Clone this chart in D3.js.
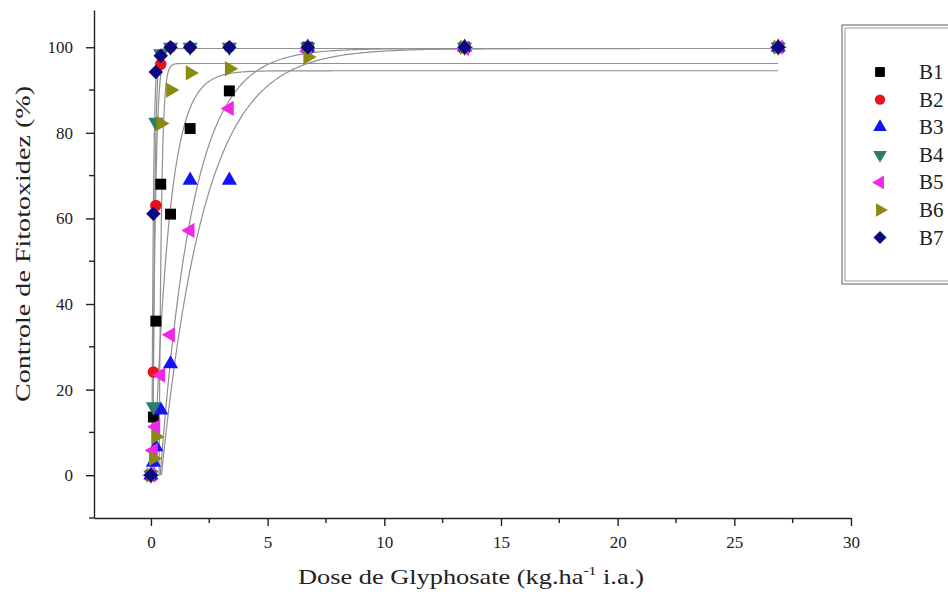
<!DOCTYPE html>
<html>
<head>
<meta charset="utf-8">
<script src="https://cdn.jsdelivr.net/npm/d3@7"></script>
<style>
  body { margin: 0; background: #fff; }
  text { font-family: "Liberation Serif", "Times New Roman", serif; fill: #222; }
</style>
</head>
<body>
<svg id="chart" width="948" height="602"></svg>
<script>
// Doses (kg.ha-1 i.a.)
var doses = [0, 0.105, 0.21, 0.42, 0.84, 1.68, 3.36, 6.72, 13.44, 26.88];

// Series names and values (% control), one value per dose
var seriesNames = ["B1", "B2", "B3", "B4", "B5", "B6", "B7"];
var b1 = [0, 13.6, 36, 68, 61, 81, 89.8, 100, 100, 100];
var b2 = [0, 24.1, 63, 96, 100, 100, 100, 100, 100, 100];
var b3 = [0, 3, 6.6, 15.2, 26, 68.9, 68.9, 100, 100, 100];
var b4 = [0, 16, 82.5, 98.5, 100, 100, 100, 100, 100, 100];
var b5 = [0, 5.8, 11.3, 23.4, 32.8, 57.2, 85.7, 99, 99.7, 100];
var b6 = [0, 3.9, 9, 82.2, 90, 94, 95, 97.7, 100, 100];
var b7 = [0, 61.1, 94.2, 98, 100, 100, 100, 100, 100, 100];

// Fitted curves y = a * (1 - exp(-b * (x - x0)))
var fitA  = [94.5, 99.7, 99.7, 99.7, 99.7, 96.2, 99.7];
var fitB  = [1.55, 8, 0.535, 13, 0.713, 10, 15];
var fitX0 = [0.14, 0.07, 0.45, 0.088, 0.4, 0.35, 0.04];

var colors = ["#000000", "#e8121a", "#1414f0", "#2a7d6c", "#ee28e6", "#8a8a12", "#0a0a7e"];

// Axis ticks
var xTicks = [0, 5, 10, 15, 20, 25, 30];
var xMinor = [2.5, 7.5, 12.5, 17.5, 22.5, 27.5];
var yTicks = [0, 20, 40, 60, 80, 100];
var yMinor = [-10, 10, 30, 50, 70, 90];

var svg = d3.select("#chart");

var x = d3.scaleLinear().domain([-2.44, 30]).range([94, 851]);
var y = d3.scaleLinear().domain([-10, 108.7]).range([518, 10]);

// Axes
var xAxis = svg.append("g")
    .attr("transform", "translate(0," + y(-10) + ")")
    .call(d3.axisBottom(x).tickValues(xTicks).tickSize(8).tickSizeOuter(0).tickPadding(10));
xAxis.append("g").selectAll("line").data(xMinor).join("line")
    .attr("x1", function (d) { return x(d); })
    .attr("x2", function (d) { return x(d); })
    .attr("y1", 0).attr("y2", 5);

var yAxis = svg.append("g")
    .attr("transform", "translate(" + x(-2.44) + ",0)")
    .call(d3.axisLeft(y).tickValues(yTicks).tickSize(8).tickSizeOuter(0).tickPadding(13));
yAxis.append("g").selectAll("line").data(yMinor).join("line")
    .attr("y1", function (d) { return y(d); })
    .attr("y2", function (d) { return y(d); })
    .attr("x1", 0).attr("x2", -5);

svg.selectAll(".domain, .tick line").attr("stroke", "#222").attr("stroke-width", 1.4);
svg.selectAll("g line").attr("stroke", "#222").attr("stroke-width", 1.4);
svg.selectAll(".tick text").attr("font-size", 17).attr("fill", "#333");

// Axis titles
svg.append("text")
    .attr("transform", "translate(30,244) rotate(-90)")
    .attr("text-anchor", "middle")
    .attr("font-size", 22)
    .attr("textLength", 316).attr("lengthAdjust", "spacingAndGlyphs")
    .text("Controle de Fitotoxidez (%)");

var xt = svg.append("text")
    .attr("x", 298).attr("y", 584)
    .attr("font-size", 22)
    .attr("textLength", 346).attr("lengthAdjust", "spacingAndGlyphs");
xt.append("tspan").text("Dose de Glyphosate (kg.ha");
xt.append("tspan").attr("font-size", 13).attr("dy", -9).text("-1");
xt.append("tspan").attr("dy", 9).text(" i.a.)");

// Fitted curves
var line = d3.line()
    .x(function (d) { return x(d[0]); })
    .y(function (d) { return y(d[1]); });

svg.append("g").selectAll("path").data(seriesNames).join("path")
    .attr("fill", "none")
    .attr("stroke", "#909090")
    .attr("stroke-width", 1.2)
    .attr("d", function (name, i) {
        var pts = [];
        var x0 = Math.max(0, fitX0[i]);
        var n = 400;
        for (var k = 0; k <= n; k++) {
            // denser sampling near the origin
            var xv = x0 + (26.88 - x0) * Math.pow(k / n, 2.5);
            var yv = fitA[i] * (1 - Math.exp(-fitB[i] * (xv - fitX0[i])));
            pts.push([xv, Math.max(0, yv)]);
        }
        return line(pts);
    });

// Markers
var seriesValues = [b1, b2, b3, b4, b5, b6, b7];
var shapes = [
    { type: d3.symbolSquare, size: 120, rot: 0 },
    { type: d3.symbolCircle, size: 105, rot: 0 },
    { type: d3.symbolTriangle, size: 100, rot: 0 },
    { type: d3.symbolTriangle, size: 100, rot: 180 },
    { type: d3.symbolTriangle, size: 100, rot: -90 },
    { type: d3.symbolTriangle, size: 100, rot: 90 },
    { type: d3.symbolSquare, size: 105, rot: 45 }
];

seriesNames.forEach(function (name, i) {
    var s = shapes[i];
    svg.append("g").attr("class", "series-" + name)
        .selectAll("path").data(seriesValues[i]).join("path")
        .attr("d", d3.symbol().type(s.type).size(s.size))
        .attr("fill", colors[i])
        .attr("transform", function (v, j) {
            return "translate(" + x(doses[j]) + "," + y(v) + ") rotate(" + s.rot + ")";
        });
});

// Legend
var legend = svg.append("g");
legend.append("rect")
    .attr("x", 842).attr("y", 25).attr("width", 130).attr("height", 259)
    .attr("fill", "#fff").attr("stroke", "#777").attr("stroke-width", 1.2);
legend.append("rect")
    .attr("x", 845).attr("y", 28).attr("width", 130).attr("height", 253)
    .attr("fill", "none").attr("stroke", "#999").attr("stroke-width", 1);

seriesNames.forEach(function (name, i) {
    var s = shapes[i];
    var ly = 72 + i * 27.6;
    legend.append("path")
        .attr("d", d3.symbol().type(s.type).size(s.size * 0.8))
        .attr("fill", colors[i])
        .attr("transform", "translate(880," + ly + ") rotate(" + s.rot + ")");
    legend.append("text")
        .attr("x", 919).attr("y", ly + 7)
        .attr("font-size", 21)
        .attr("fill", "#333")
        .text(name);
});
</script>
</body>
</html>
